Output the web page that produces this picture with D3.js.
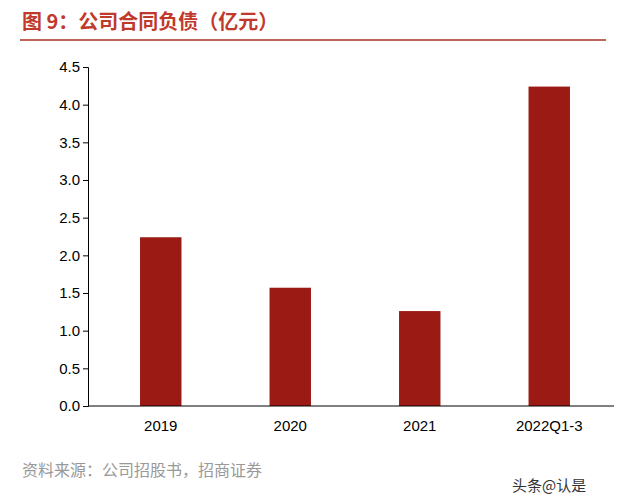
<!DOCTYPE html>
<html><head><meta charset="utf-8">
<script src="https://cdn.jsdelivr.net/npm/d3@7"></script>
<style>body{margin:0;background:#fff;font-family:"Noto Sans CJK SC","Liberation Sans",sans-serif}</style>
</head><body>
<svg id="c" width="640" height="502"></svg>
<script>
const categories = ["2019", "2020", "2021", "2022Q1-3"]
const values = [2.24, 1.57, 1.26, 4.24]
const ticks = [0, 0.5, 1, 1.5, 2, 2.5, 3, 3.5, 4, 4.5]

const svg = d3.select("#c")
const x = d3.scaleBand().domain(categories).range([96, 614]).paddingInner(0.68).paddingOuter(0.34)
const y = d3.scaleLinear().domain([0, 4.5]).range([406, 67])

// Title
svg.append("text").attr("x", 22).attr("y", 29)
  .style("font-size", "20px").style("font-weight", "bold").style("fill", "#c0392b")
  .text("图 9：公司合同负债（亿元）")
svg.append("line").attr("x1", 20).attr("x2", 606).attr("y1", 40).attr("y2", 40)
  .attr("stroke", "#a93226").attr("stroke-width", 1.5)

// Bars
svg.selectAll(".bar").data(values).enter().append("rect")
  .attr("x", (d, i) => x(categories[i]))
  .attr("y", d => y(d))
  .attr("width", x.bandwidth())
  .attr("height", d => y(0) - y(d))
  .attr("fill", "#9b1b14")

// Axes
const yAxis = svg.append("g").attr("transform", "translate(88,0)")
  .call(d3.axisLeft(y).tickValues(ticks).tickFormat(d3.format(".1f")).tickSize(5))
const xAxis = svg.append("g").attr("transform", `translate(0,${y(0)})`)
  .call(d3.axisBottom(x).tickSize(0).tickPadding(14))
xAxis.select(".domain").attr("d", "M88,0H614")
svg.selectAll(".tick text").style("font-size", "15px").style("fill", "#000")
  .style("font-family", "Liberation Sans, Arial, sans-serif")
svg.selectAll(".domain, .tick line").attr("stroke", "#000")

// Source
svg.append("text").attr("x", 22).attr("y", 476)
  .style("font-size", "16px").style("fill", "#999")
  .text("资料来源：公司招股书，招商证券")
svg.append("text").attr("x", 512).attr("y", 491)
  .style("font-size", "15px").style("fill", "#333")
  .text("头条@认是")
</script>
</body></html>
